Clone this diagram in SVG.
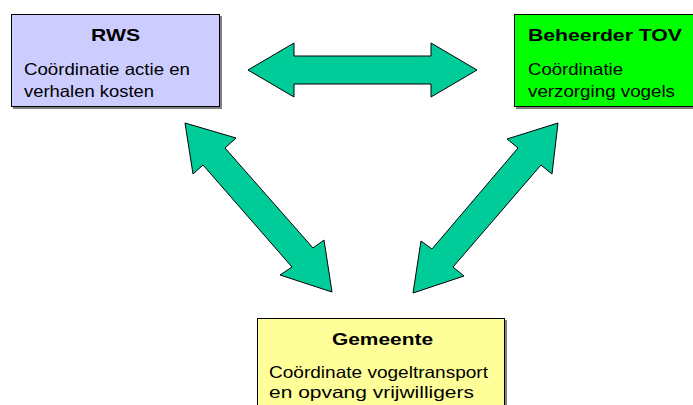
<svg xmlns="http://www.w3.org/2000/svg" width="693" height="405" viewBox="0 0 693 405">
<style>
.box{stroke:#000;stroke-width:1}
.shadow{fill:#808080}
.title{font-family:"Liberation Sans",Arial,sans-serif;font-weight:bold;font-size:17px;fill:#000}
.body{font-family:"Liberation Sans",Arial,sans-serif;font-size:16.5px;fill:#000}
.arrow{fill:#00cc99;stroke:#000;stroke-width:1;stroke-linejoin:miter}
</style>
<rect width="693" height="405" fill="#fff"/>
<g id="connectors">
<polygon class="arrow" points="248,70 294,43 294,56 431,56 431,43 477,70 431,97 431,84 294,84 294,97"/>
<polygon class="arrow" points="185,123 236,138 225,148 313,248 324,240 332,292 280,275 292,267 203,165 193,174"/>
<polygon class="arrow" points="558,123 552,174 541,165 453,267 464,276 413,293 421,241 432,249 518,148 507,139"/>
</g>
<g id="rws">
<rect class="shadow" x="13" y="16" width="209" height="93"/>
<rect class="box" x="11.5" y="14.5" width="208" height="92" fill="#ccccff"/>
<text class="title" x="91" y="41" textLength="49" lengthAdjust="spacingAndGlyphs">RWS</text>
<text class="body" x="24" y="75" textLength="166" lengthAdjust="spacingAndGlyphs">Coördinatie actie en</text>
<text class="body" x="24" y="97" textLength="130" lengthAdjust="spacingAndGlyphs">verhalen kosten</text>
</g>
<g id="beheerder">
<rect class="shadow" x="516" y="16" width="180" height="93"/>
<rect class="box" x="514.5" y="14.5" width="180" height="92" fill="#00ff00"/>
<text class="title" x="528" y="41" textLength="154" lengthAdjust="spacingAndGlyphs">Beheerder TOV</text>
<text class="body" x="528" y="75" textLength="95" lengthAdjust="spacingAndGlyphs">Coördinatie</text>
<text class="body" x="528" y="97" textLength="147" lengthAdjust="spacingAndGlyphs">verzorging vogels</text>
</g>
<g id="gemeente">
<rect class="shadow" x="259" y="320" width="248" height="90"/>
<rect class="box" x="257.5" y="318.5" width="247" height="90" fill="#ffff99"/>
<text class="title" x="332" y="345" textLength="101" lengthAdjust="spacingAndGlyphs">Gemeente</text>
<text class="body" x="269" y="378" textLength="219" lengthAdjust="spacingAndGlyphs">Coördinate vogeltransport</text>
<text class="body" x="269" y="398" textLength="205" lengthAdjust="spacingAndGlyphs">en opvang vrijwilligers</text>
</g>
</svg>
